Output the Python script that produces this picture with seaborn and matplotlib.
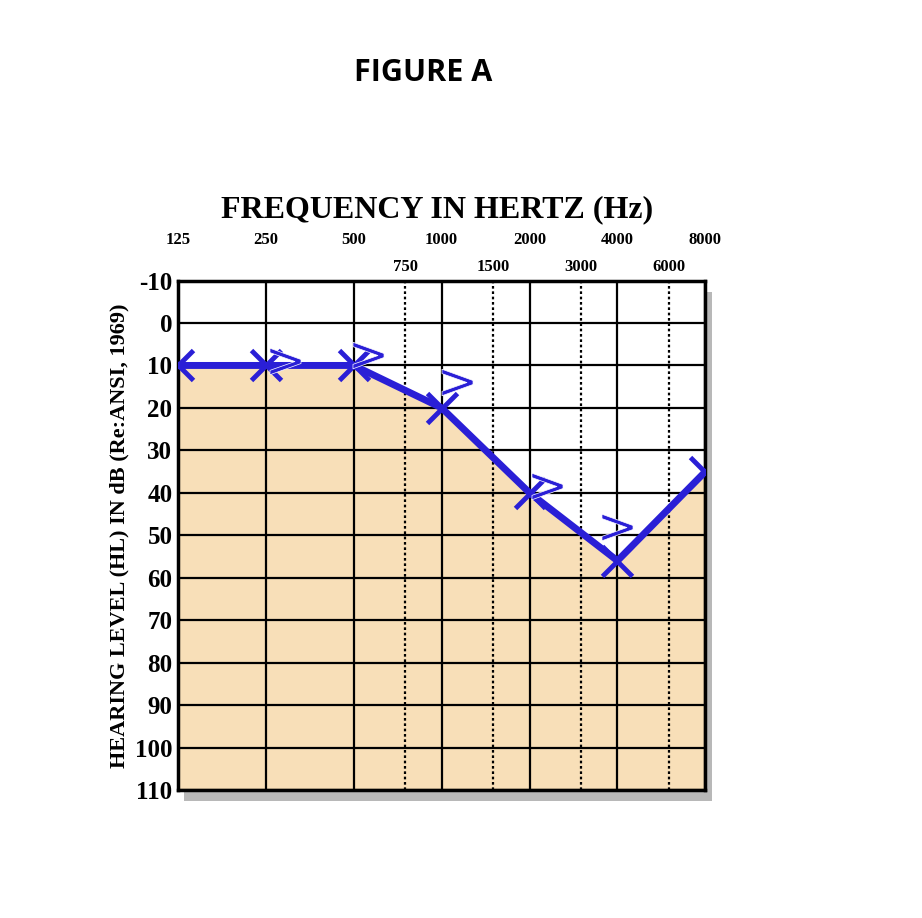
import matplotlib
matplotlib.use("Agg")
import matplotlib.pyplot as plt
import matplotlib.transforms as mtrans
import seaborn as sns
import pandas as pd

freqs = [125, 250, 500, 1000, 2000, 4000, 8000]
air_db = [10, 10, 10, 20, 40, 56, 35]
bone_freqs = [290, 560, 1130, 2300, 4000]
bone_db = [9, 7.5, 14, 38.5, 48]
mid_freqs = [750, 1500, 3000, 6000]
y_ticks = list(range(-10, 111, 10))

sns.set_style("white")
plt.rcParams["text.color"] = "black"
plt.rcParams["ytick.color"] = "black"
plt.rcParams["axes.labelcolor"] = "black"
serif = ["Liberation Serif", "DejaVu Serif"]
fig = plt.figure(figsize=(9.22, 9.18), dpi=100)

# drop shadow
sh = fig.add_axes([0.200, 0.127, 0.572, 0.555], zorder=0)
sh.set_facecolor("#b8b8b8")
sh.set_xticks([]); sh.set_yticks([])
for s in sh.spines.values():
    s.set_visible(False)

ax = fig.add_axes([0.193, 0.1394, 0.572, 0.555], zorder=1)
ax.set_facecolor("white")

ax.set_xscale("log", base=2)
ax.set_xlim(125, 8000)
ax.set_ylim(110, -10)

ax.fill_between(freqs, air_db, 110, color="#f8dfb8", zorder=1)
for f in freqs:
    ax.axvline(f, color="black", lw=1.6, zorder=2)
for f in mid_freqs:
    ax.axvline(f, color="black", lw=1.6, ls=(0, (1.2, 1.2)), zorder=2)
for y in y_ticks:
    ax.axhline(y, color="black", lw=1.6, zorder=2)

df = pd.DataFrame({"f": freqs, "db": air_db})
sns.lineplot(data=df, x="f", y="db", ax=ax, color="#2a1fd6", lw=5, marker="x",
             markersize=22, markeredgewidth=3.5, markeredgecolor="#2a1fd6", zorder=4)
bdf = pd.DataFrame({"f": bone_freqs, "db": bone_db})
sns.scatterplot(data=bdf, x="f", y="db", ax=ax, marker="$>$", s=500, color="#2a1fd6",
                linewidth=0.5, zorder=5)

ax.set_xticks([])
ax.set_xticks([], minor=True)
ax.set_yticks(y_ticks)
ax.set_yticklabels([str(v) for v in y_ticks], fontsize=18, fontweight="bold", family=serif)
ax.tick_params(axis="y", length=0, pad=4)
ax.set_xlabel("")
ax.set_ylabel("HEARING LEVEL (HL) IN dB (Re:ANSI, 1969)", fontsize=16, fontweight="bold",
              family=serif, labelpad=4)
for s in ax.spines.values():
    s.set_color("black"); s.set_linewidth(2.5)

tr = mtrans.blended_transform_factory(ax.transData, fig.transFigure)
for f in freqs:
    ax.text(f, 1 - 240 / 918, str(f), transform=tr, ha="center", va="center",
            fontsize=12, fontweight="bold", family=serif)
for f in mid_freqs:
    ax.text(f, 1 - 267 / 918, str(f), transform=tr, ha="center", va="center",
            fontsize=12, fontweight="bold", family=serif)
fig.text(437 / 922, 1 - 210 / 918, "FREQUENCY IN HERTZ (Hz)", ha="center", va="center",
         fontsize=23, fontweight="bold", family=serif)
fig.text(423 / 922, 1 - 73 / 918, "FIGURE A", ha="center", va="center",
         fontsize=22, fontweight="bold", family=["Open Sans", "DejaVu Sans"])

fig.savefig("out.png", dpi=100)
